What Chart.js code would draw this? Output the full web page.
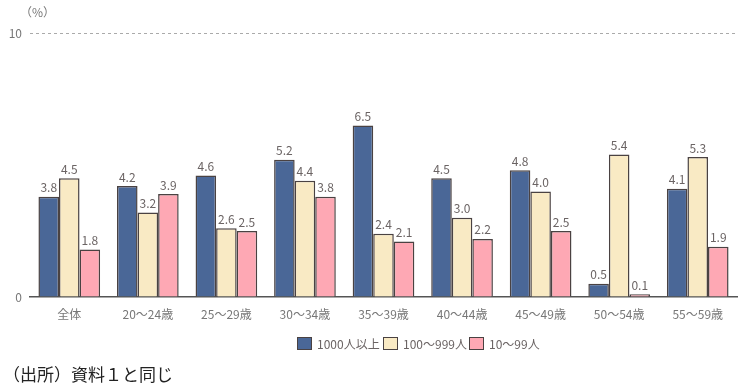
<!DOCTYPE html>
<html><head><meta charset="utf-8">
<script src="https://cdn.jsdelivr.net/npm/chart.js@4"></script>
<style>
html,body{margin:0;padding:0;background:#fff;}
#wrap{position:relative;width:750px;height:391px;}
canvas{position:absolute;left:0;top:0;}
.unit{position:absolute;left:20px;top:3px;font:12px "Noto Sans CJK JP";color:#777;}
.leg{position:absolute;top:335px;font:12px "Noto Sans CJK JP";color:#6b6464;display:flex;align-items:center;}
.leg span.b{display:inline-block;width:13px;height:11px;border:1.5px solid #4a4242;margin-right:5px;}
.src{position:absolute;left:3px;top:361px;font:17px "Noto Sans CJK JP";color:#222;}
</style></head><body>
<div id="wrap">
<canvas id="c" width="750" height="391"></canvas>
<div class="unit">（%）</div>
<div class="leg" style="left:297px"><span class="b" style="background:#4a6797"></span>1000人以上</div>
<div class="leg" style="left:383px"><span class="b" style="background:#f9eac4"></span>100～999人</div>
<div class="leg" style="left:469px"><span class="b" style="background:#fea8b4"></span>10～99人</div>
<div class="src">（出所）資料１と同じ</div>
</div>
<script>
const categories = ["全体","20～24歳","25～29歳","30～34歳","35～39歳","40～44歳","45～49歳","50～54歳","55～59歳"];
const seriesNames = ["1000人以上","100～999人","10～99人"];
const large = [3.8,4.2,4.6,5.2,6.5,4.5,4.8,0.5,4.1];
const medium = [4.5,3.2,2.6,4.4,2.4,3.0,4.0,5.4,5.3];
const small = [1.8,3.9,2.5,3.8,2.1,2.2,2.5,0.1,1.9];
const yTicks = [0,10];

const labelPlugin = {
  id:'vals',
  afterDatasetsDraw(chart){
    const ctx = chart.ctx;
    ctx.save();
    ctx.font = '12px "Noto Sans CJK JP"';
    ctx.fillStyle = '#6b6464';
    ctx.textAlign = 'center';
    ctx.textBaseline = 'bottom';
    chart.data.datasets.forEach((ds,i)=>{
      chart.getDatasetMeta(i).data.forEach((bar,j)=>{
        ctx.fillText(ds.data[j].toFixed(1), bar.x, bar.y - 3);
      });
    });
    ctx.restore();
  }
};

const border = '#4a4242';
new Chart(document.getElementById('c'), {
  type:'bar',
  data:{
    labels:categories,
    datasets:[
      {label:seriesNames[0],data:large,backgroundColor:'#4a6797',borderColor:border,borderWidth:1.5},
      {label:seriesNames[1],data:medium,backgroundColor:'#f9eac4',borderColor:border,borderWidth:1.5},
      {label:seriesNames[2],data:small,backgroundColor:'#fea8b4',borderColor:border,borderWidth:1.5}
    ]
  },
  options:{
    responsive:false,
    animation:false,
    events:[],
    layout:{padding:{top:33,bottom:71,right:13,left:0}},
    datasets:{bar:{categoryPercentage:0.785,barPercentage:1}},
    plugins:{legend:{display:false},tooltip:{enabled:false}},
    scales:{
      x:{
        grid:{display:false},
        border:{display:true,color:'#555',width:1.5},
        ticks:{color:'#777',font:{family:'Noto Sans CJK JP',size:12},padding:2,maxRotation:0},
        afterFit(s){s.height=23;}
      },
      y:{
        min:0,max:10,
        afterBuildTicks(s){s.ticks = yTicks.map(v=>({value:v}));},
        border:{display:false,dash:[3,3]},
        grid:{
          color:(c)=> c.tick && c.tick.value===10 ? '#aaa' : 'rgba(0,0,0,0)',
          drawTicks:false,
          lineWidth:1
        },
        ticks:{color:'#777',font:{family:'Noto Sans CJK JP',size:12},padding:8},
        afterFit(s){s.width=30;}
      }
    }
  },
  plugins:[labelPlugin]
});
</script>
</body></html>
